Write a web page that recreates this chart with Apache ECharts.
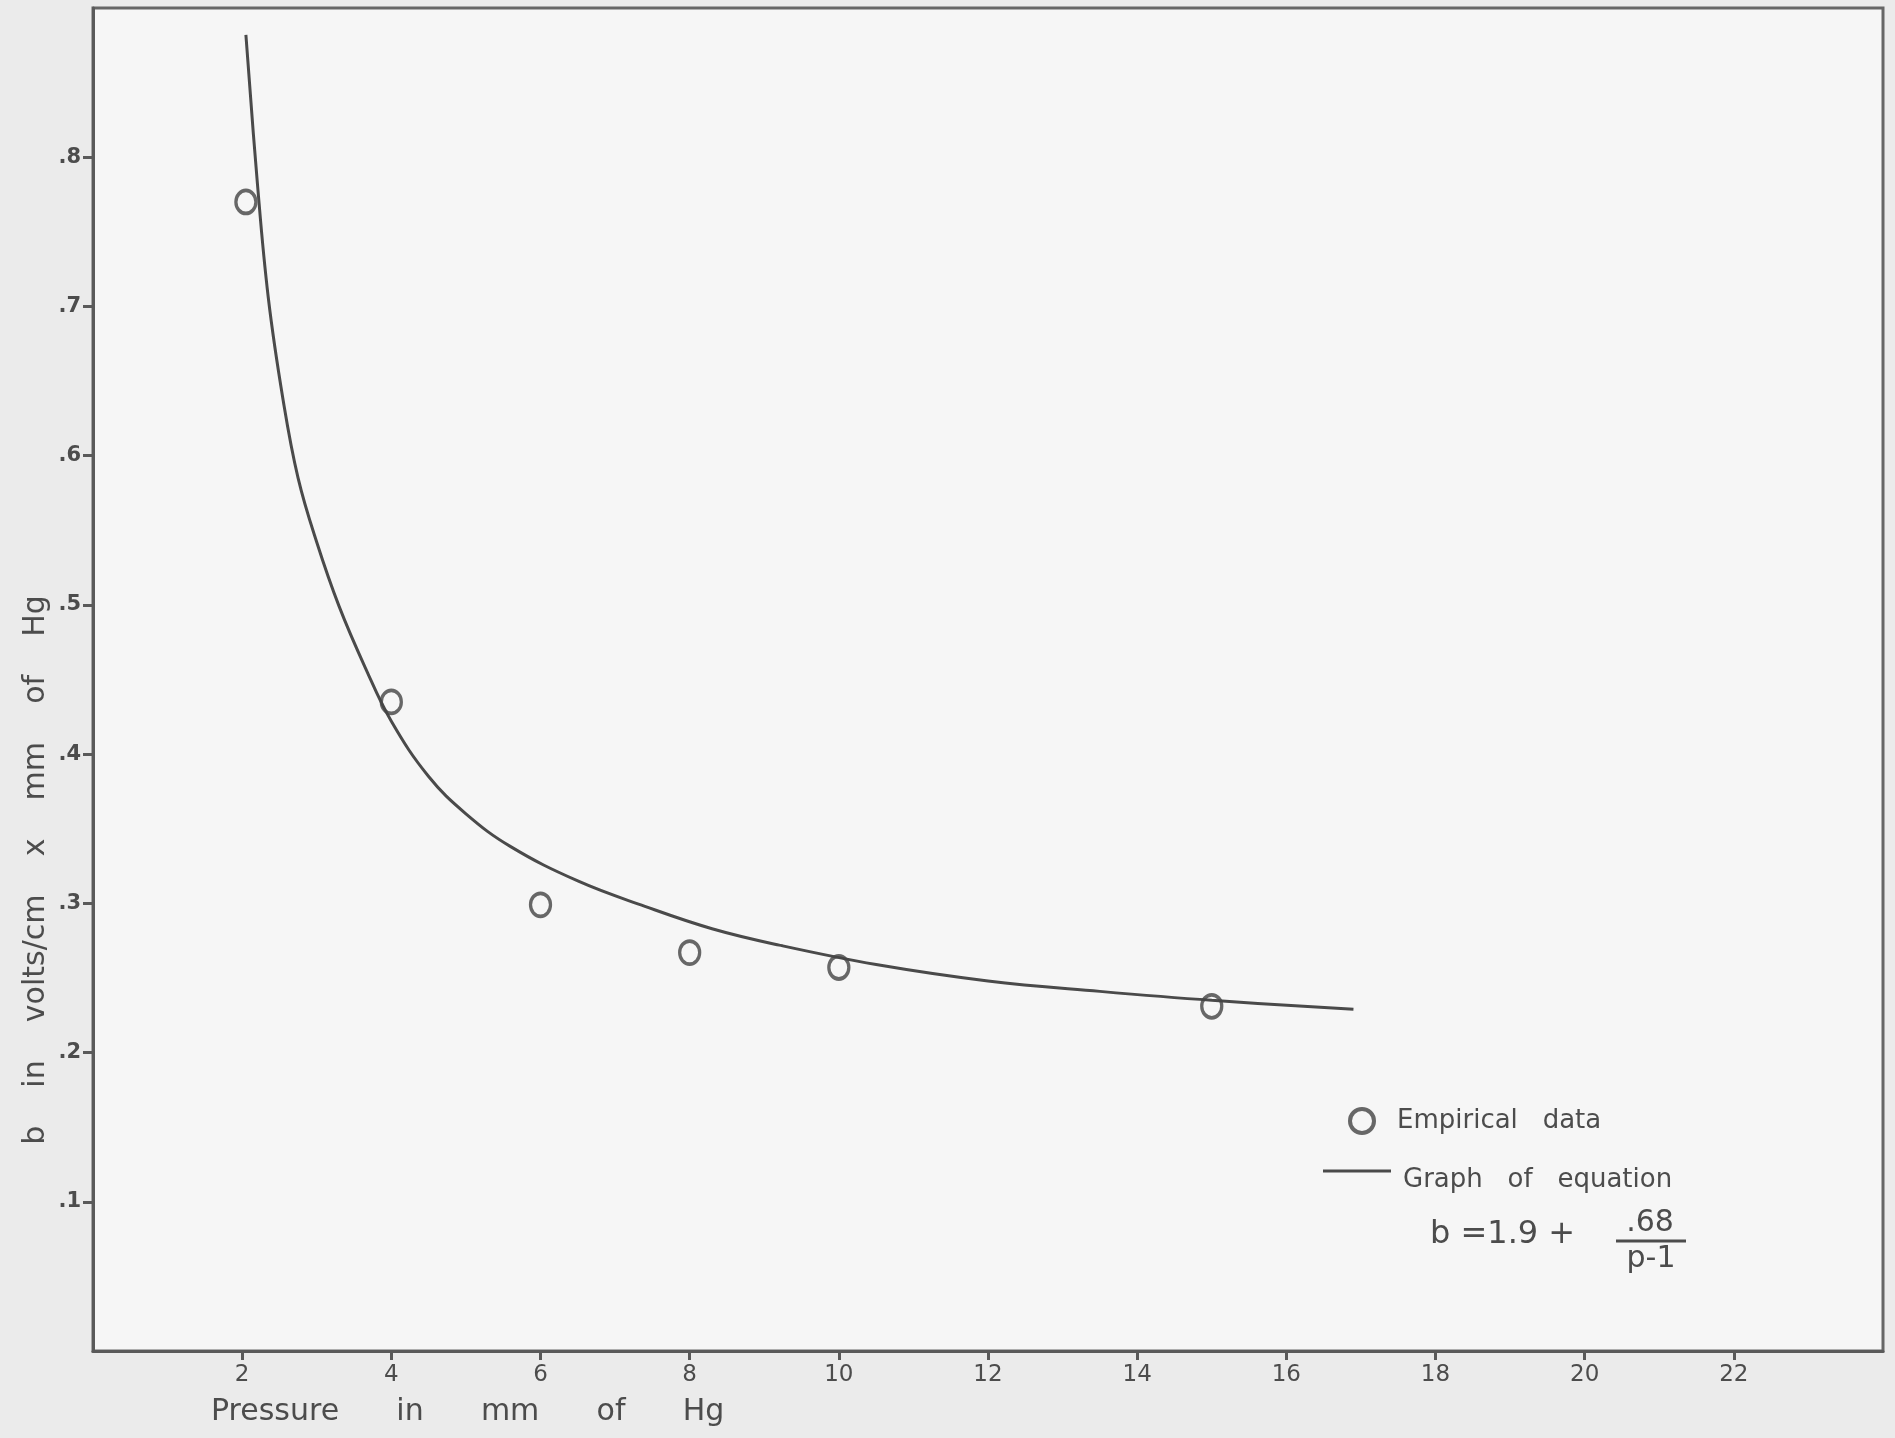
<!DOCTYPE html>
<html>
<head>
<meta charset="utf-8">
<script src="https://cdn.jsdelivr.net/npm/echarts@6/dist/echarts.min.js"></script>
<style>
  html, body { margin: 0; padding: 0; background: #ebebeb; }
  #chart { width: 1895px; height: 1438px; }
</style>
</head>
<body>
<div id="chart"></div>
<script>
// ---- data ----
const empiricalPressure = [2.05, 4, 6, 8, 10, 15];
const empiricalB = [0.770, 0.435, 0.299, 0.267, 0.257, 0.231];

const curvePressure = [2.05, 2.2, 2.35, 2.55, 2.75, 3.0, 3.3, 3.65, 4.0, 4.5, 5.0, 5.6, 6.5, 7.4, 8.3, 9.2, 10.5, 12, 13.5, 15, 16.9];
const curveB = [0.882, 0.785, 0.706, 0.637, 0.585, 0.542, 0.499, 0.458, 0.422, 0.385, 0.360, 0.338, 0.315, 0.298, 0.283, 0.272, 0.259, 0.248, 0.241, 0.235, 0.229];

const xTickValues = [2, 4, 6, 8, 10, 12, 14, 16, 18, 20, 22];
const yTickValues = [0.1, 0.2, 0.3, 0.4, 0.5, 0.6, 0.7, 0.8];
const yTickLabels = ['.1', '.2', '.3', '.4', '.5', '.6', '.7', '.8'];

const seriesNames = ['Empirical data', 'Graph of equation'];
const xTitle = 'Pressure      in      mm      of      Hg';
const yTitle = 'b    in    volts/cm    x    mm    of    Hg';
const eqLeft = 'b =1.9 +';
const eqNum = '.68';
const eqDen = 'p-1';

// ---- chart ----
const ink = '#4c4c4c';
const font = 'DejaVu Sans';
const chart = echarts.init(document.getElementById('chart'), null, { renderer: 'canvas' });

const empiricalData = empiricalPressure.map((p, i) => [p, empiricalB[i]]);
const curveData = curvePressure.map((p, i) => [p, curveB[i]]);

chart.setOption({
  backgroundColor: '#ebebeb',
  animation: false,
  grid: {
    left: 93, right: 12, top: 8, bottom: 87,
    show: true, backgroundColor: '#f6f6f6',
    borderColor: '#666', borderWidth: 3
  },
  xAxis: {
    type: 'value', min: 0, max: 24, interval: 2,
    axisLine: { show: true, lineStyle: { color: '#5a5a5a', width: 3 } },
    axisTick: { show: true, customValues: xTickValues, length: 9, inside: false, lineStyle: { color: '#5a5a5a', width: 3 } },
    axisLabel: {
      customValues: xTickValues, margin: 13,
      color: ink, fontFamily: font, fontSize: 23,
      formatter: v => String(v)
    },
    splitLine: { show: false }
  },
  yAxis: {
    type: 'value', min: 0, max: 0.9, interval: 0.1,
    axisLine: { show: true, lineStyle: { color: '#5a5a5a', width: 3 } },
    axisTick: { show: true, customValues: yTickValues, length: 10, lineStyle: { color: '#5a5a5a', width: 3 } },
    axisLabel: {
      customValues: yTickValues, margin: 12,
      color: ink, fontFamily: font, fontSize: 21, fontWeight: 'bold',
      formatter: v => {
        const idx = yTickValues.findIndex(t => Math.abs(t - v) < 1e-6);
        return idx >= 0 ? yTickLabels[idx] : '';
      }
    },
    splitLine: { show: false }
  },
  legend: [
    {
      data: [{ name: seriesNames[0], icon: 'circle' }],
      left: 1348, top: 1107, padding: 0,
      itemWidth: 24, itemHeight: 24,
      itemStyle: { color: 'rgba(0,0,0,0)', borderColor: '#444', borderWidth: 4 },
      formatter: n => n.replace(' ', '   '),
      textStyle: { color: ink, fontFamily: font, fontSize: 26, lineHeight: 26, padding: [0, 0, 0, 18] }
    },
    {
      data: [{ name: seriesNames[1], icon: 'path://M0,0H68V3H0Z M0,21L0.01,21' }],
      left: 1323, top: 1167, padding: 0,
      itemWidth: 68, itemHeight: 22,
      formatter: n => n.split(' ').join('   '),
      textStyle: { color: ink, fontFamily: font, fontSize: 26, lineHeight: 26, padding: [0, 0, 0, 7] }
    }
  ],
  series: [
    {
      name: seriesNames[0],
      type: 'scatter',
      data: empiricalData,
      symbol: 'circle',
      symbolSize: [20, 23],
      itemStyle: { color: 'rgba(0,0,0,0)', borderColor: '#444', borderWidth: 3.5 },
      z: 5
    },
    {
      name: seriesNames[1],
      type: 'line',
      data: curveData,
      smooth: 0.4,
      showSymbol: false,
      symbol: 'none',
      lineStyle: { color: '#4a4a4a', width: 3 },
      itemStyle: { color: '#4a4a4a' },
      z: 4
    }
  ],
  graphic: [
    {
      type: 'rect', z: -1, silent: true,
      shape: { x: 95, y: 1136, width: 1787, height: 212 },
      style: { fill: '#f9f9f9' }
    },
    {
      type: 'rect', z: -1, silent: true,
      shape: { x: 95, y: 965, width: 1787, height: 170 },
      style: { fill: 'rgba(0,0,0,0.025)' }
    },
    {
      type: 'text', x: 211, y: 1412,
      style: { text: xTitle, fill: ink, font: '30px "DejaVu Sans"', align: 'left', verticalAlign: 'middle' }
    },
    {
      type: 'text', x: 36, y: 870, rotation: Math.PI / 2,
      style: { text: yTitle, fill: ink, font: '30px "DejaVu Sans"', align: 'center', verticalAlign: 'middle' }
    },
    {
      type: 'text', x: 1430, y: 1235,
      style: { text: eqLeft, fill: ink, font: '32px "DejaVu Sans"', align: 'left', verticalAlign: 'middle' }
    },
    {
      type: 'text', x: 1650, y: 1223,
      style: { text: eqNum, fill: ink, font: '30px "DejaVu Sans"', align: 'center', verticalAlign: 'middle' }
    },
    {
      type: 'line', shape: { x1: 1616, y1: 1241, x2: 1686, y2: 1241 },
      style: { stroke: ink, lineWidth: 3 }
    },
    {
      type: 'text', x: 1651, y: 1259,
      style: { text: eqDen, fill: ink, font: '30px "DejaVu Sans"', align: 'center', verticalAlign: 'middle' }
    }
  ]
});
</script>
</body>
</html>
